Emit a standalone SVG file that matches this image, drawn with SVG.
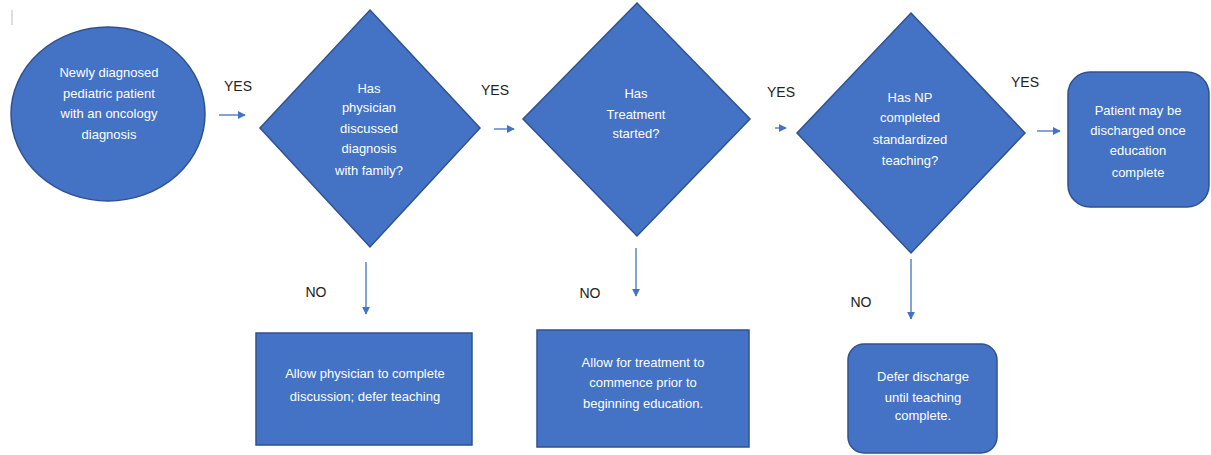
<svg xmlns="http://www.w3.org/2000/svg" width="1211" height="455" viewBox="0 0 1211 455">
<style>
.shape{fill:#4472C4;stroke:#2F528F;stroke-width:1.5}
.nt{font-family:"Liberation Sans",Arial,sans-serif;font-size:13px;fill:#FFFFFF;text-anchor:middle}
.lbl{font-family:"Liberation Sans",Arial,sans-serif;font-size:14px;fill:#222222;text-anchor:middle}
.conn{stroke:#4472C4;stroke-width:1.3;fill:none;marker-end:url(#ah)}
</style>
<defs>
<marker id="ah" viewBox="0 0 10 10" refX="9" refY="5" markerWidth="8" markerHeight="8" markerUnits="userSpaceOnUse" orient="auto">
<path d="M0,0 L10,5 L0,10 z" fill="#4472C4"/>
</marker>
</defs>
<rect width="1211" height="455" fill="#FFFFFF"/>
<line x1="12" y1="10" x2="12" y2="25" stroke="#BBBBBB" stroke-width="1"/>

<g id="start">
<ellipse class="shape" cx="108" cy="114" rx="97" ry="87"/>
<text class="nt" x="109" y="77">Newly diagnosed</text>
<text class="nt" x="109" y="98">pediatric patient</text>
<text class="nt" x="109" y="118">with an oncology</text>
<text class="nt" x="109" y="139">diagnosis</text>
</g>

<g id="d1">
<polygon class="shape" points="370,10 480,128 370,247 260,128"/>
<text class="nt" x="369" y="93">Has</text>
<text class="nt" x="369" y="112">physician</text>
<text class="nt" x="369" y="133">discussed</text>
<text class="nt" x="369" y="153">diagnosis</text>
<text class="nt" x="369" y="175">with family?</text>
</g>

<g id="d2">
<polygon class="shape" points="637,3 750,119 637,236 523,119"/>
<text class="nt" x="636" y="98">Has</text>
<text class="nt" x="636" y="119">Treatment</text>
<text class="nt" x="636" y="138">started?</text>
</g>

<g id="d3">
<polygon class="shape" points="911,13 1025,133 911,253 797,133"/>
<text class="nt" x="910" y="102">Has NP</text>
<text class="nt" x="910" y="122">completed</text>
<text class="nt" x="910" y="144">standardized</text>
<text class="nt" x="910" y="165">teaching?</text>
</g>

<g id="end">
<rect class="shape" x="1068" y="72" width="141" height="135" rx="22" ry="22"/>
<text class="nt" x="1138" y="115">Patient may be</text>
<text class="nt" x="1138" y="135">discharged once</text>
<text class="nt" x="1138" y="155">education</text>
<text class="nt" x="1138" y="177">complete</text>
</g>

<g id="no1">
<rect class="shape" x="256" y="333" width="216" height="112"/>
<text class="nt" x="365" y="378">Allow physician to complete</text>
<text class="nt" x="365" y="401">discussion; defer teaching</text>
</g>

<g id="no2">
<rect class="shape" x="537" y="330" width="212" height="117"/>
<text class="nt" x="643" y="367">Allow for treatment to</text>
<text class="nt" x="643" y="387">commence prior to</text>
<text class="nt" x="643" y="408">beginning education.</text>
</g>

<g id="no3">
<rect class="shape" x="848" y="344" width="149" height="109" rx="16" ry="16"/>
<text class="nt" x="923" y="381">Defer discharge</text>
<text class="nt" x="923" y="402">until teaching</text>
<text class="nt" x="923" y="420">complete.</text>
</g>

<g id="connectors">
<line class="conn" x1="219" y1="115" x2="245" y2="115"/>
<line class="conn" x1="494" y1="129" x2="514" y2="129"/>
<line class="conn" x1="775" y1="128" x2="786" y2="128"/>
<line class="conn" x1="1037" y1="131" x2="1060" y2="131"/>
<line class="conn" x1="366" y1="262" x2="366" y2="314"/>
<line class="conn" x1="636" y1="248" x2="636" y2="296"/>
<line class="conn" x1="911" y1="259" x2="911" y2="319"/>
<text class="lbl" x="238" y="91">YES</text>
<text class="lbl" x="495" y="95">YES</text>
<text class="lbl" x="781" y="97">YES</text>
<text class="lbl" x="1025" y="87">YES</text>
<text class="lbl" x="316" y="297">NO</text>
<text class="lbl" x="590" y="298">NO</text>
<text class="lbl" x="861" y="307">NO</text>
</g>
</svg>
